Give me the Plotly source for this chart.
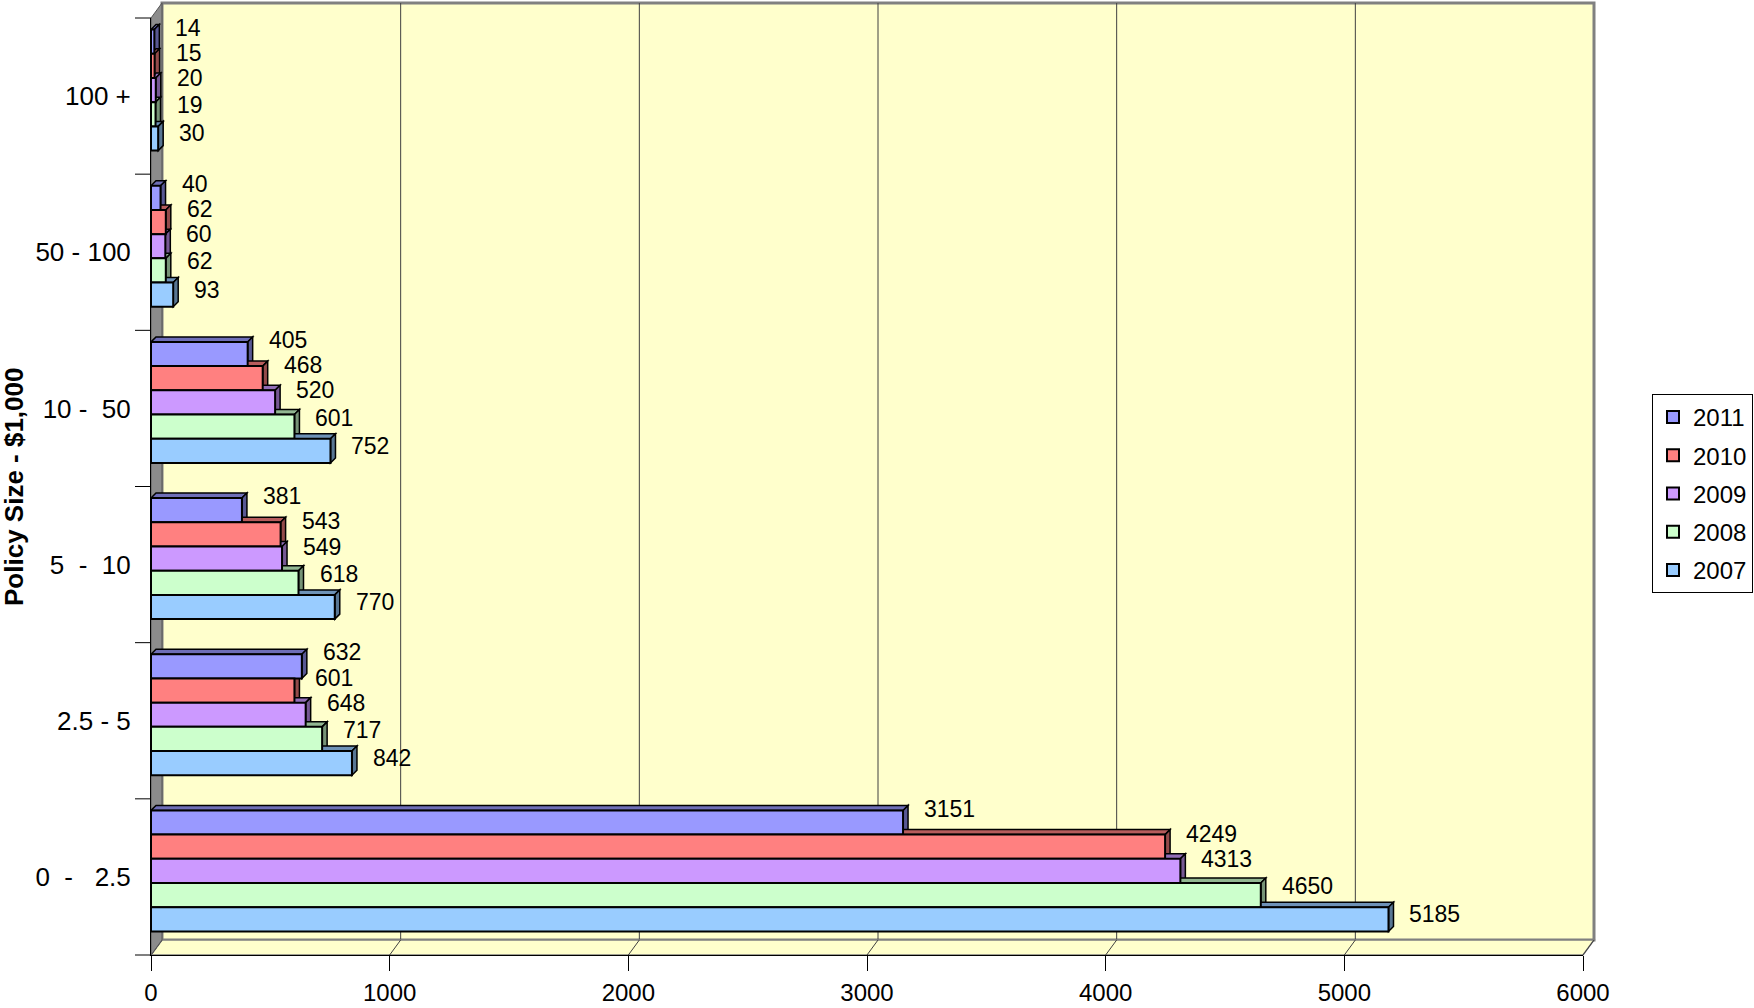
import plotly.graph_objects as go

# ---------------- data ----------------
categories = ["0  -   2.5", "2.5 - 5", "5  -  10", "10 -  50", "50 - 100", "100 +"]
years = ["2007", "2008", "2009", "2010", "2011"]
v2007 = [5185, 842, 770, 752, 93, 30]
v2008 = [4650, 717, 618, 601, 62, 19]
v2009 = [4313, 648, 549, 520, 60, 20]
v2010 = [4249, 601, 543, 468, 62, 15]
v2011 = [3151, 632, 381, 405, 40, 14]
series_values = [v2007, v2008, v2009, v2010, v2011]
x_ticks = [0, 1000, 2000, 3000, 4000, 5000, 6000]

# ---------------- style ----------------
colors = ["#99CCFF", "#CCFFCC", "#CC99FF", "#FF8080", "#9999FF"]
label_lift = [5, 9, 12, 13, 14]   # px raise of the value labels, per series (3D perspective look)

# ---------------- geometry (pixels) ----------------
W, H = 1754, 1008
X0, X1 = 151, 1583      # data 0 -> 6000 on the front plane
YT, YB = 18, 955        # front plane top / bottom
XMAX = 6000
DX, DY = 11, 15          # wall depth offset
BDX, BDY = 5, 5          # bar depth offset
FONT = "Liberation Sans, Arial"

ux = (X1 - X0) / XMAX            # px per data unit (x)
uy = (YB - YT) / len(categories)  # px per category

def px(xp):
    return (xp - X0) / (X1 - X0)

def py(yp):
    return (YB - yp) / (YB - YT)

def darken(hexc, f):
    hexc = hexc.lstrip("#")
    r, g, b = (int(hexc[i:i + 2], 16) for i in (0, 2, 4))
    return "rgb(%d,%d,%d)" % (r * f, g * f, b * f)

bar_w = 24.2 / uy
shift = 6 / uy
nser = len(years)

fig = go.Figure()
shapes = []

# back wall
shapes.append(dict(type="rect", xref="paper", yref="paper",
                   x0=px(X0 + DX), x1=px(X1 + DX), y0=py(YB - DY), y1=py(YT - DY),
                   fillcolor="#FFFFCC", line=dict(color="#808080", width=3), layer="below"))
# gridlines on back wall
for v in x_ticks:
    xf = X0 + v * ux
    if 0 < v < XMAX:
        shapes.append(dict(type="line", xref="paper", yref="paper",
                           x0=px(xf + DX), x1=px(xf + DX), y0=py(YB - DY), y1=py(YT - DY),
                           line=dict(color="#404040", width=1), layer="below"))
# floor
shapes.append(dict(type="path", xref="paper", yref="paper",
                   path="M %f %f L %f %f L %f %f L %f %f Z" % (
                       px(X0), py(YB), px(X1), py(YB), px(X1 + DX), py(YB - DY), px(X0 + DX), py(YB - DY)),
                   fillcolor="#FFFFCC", line=dict(color="#808080", width=1.5), layer="below"))
for v in x_ticks:
    xf = X0 + v * ux
    shapes.append(dict(type="line", xref="paper", yref="paper",
                       x0=px(xf + DX), x1=px(xf), y0=py(YB - DY), y1=py(YB),
                       line=dict(color="#404040", width=1), layer="below"))
# left wall
shapes.append(dict(type="path", xref="paper", yref="paper",
                   path="M %f %f L %f %f L %f %f L %f %f Z" % (
                       px(X0), py(YB), px(X0), py(YT), px(X0 + DX), py(YT - DY), px(X0 + DX), py(YB - DY)),
                   fillcolor="#8C8C8C", line=dict(color="#555555", width=1), layer="below"))
# category boundary ticks
for k in range(len(categories) + 1):
    yk = YT + k * uy
    shapes.append(dict(type="line", xref="paper", yref="paper",
                       x0=px(X0 - 16), x1=px(X0), y0=py(yk), y1=py(yk),
                       line=dict(color="black", width=1), layer="below"))

# bars (front faces) + 3D top/side faces; legend lists 2011 first
annotations = []
ddx = BDX / ux
ddy = BDY / uy
for j in reversed(range(nser)):
    yr, vals, col = years[j], series_values[j], colors[j]
    off = -nser / 2 * bar_w + shift + j * bar_w
    fig.add_trace(go.Bar(
        orientation="h", name=yr, x=vals, y=list(range(len(categories))),
        width=bar_w, offset=off,
        marker=dict(color=col, line=dict(color="black", width=2)),
        legendgroup=yr, hoverinfo="x+name",
    ))
    topc = darken(col, 0.72)
    sidec = darken(col, 0.58)
    for i, v in enumerate(vals):
        y0 = i + off
        y1 = y0 + bar_w
        shapes.append(dict(type="path", xref="x", yref="y",
                           path="M 0 %f L %f %f L %f %f L %f %f Z" % (
                               y1, ddx, y1 + ddy, v + ddx, y1 + ddy, v, y1),
                           fillcolor=topc, line=dict(color="black", width=1.5), layer="below"))
        shapes.append(dict(type="path", xref="x", yref="y",
                           path="M %f %f L %f %f L %f %f L %f %f Z" % (
                               v, y1, v + ddx, y1 + ddy, v + ddx, y0 + ddy, v, y0),
                           fillcolor=sidec, line=dict(color="black", width=1.5), layer="below"))
        annotations.append(dict(x=v, y=(y0 + y1) / 2, xref="x", yref="y",
                                text=str(v), showarrow=False, xanchor="left", yanchor="middle",
                                xshift=19, yshift=label_lift[j],
                                font=dict(family=FONT, size=23, color="black")))

annotations.append(dict(text="<b>Policy Size - $1,000</b>", xref="paper", yref="paper",
                        x=px(14), y=py(487), textangle=-90, showarrow=False,
                        xanchor="center", yanchor="middle",
                        font=dict(family=FONT, size=26, color="black")))

fig.update_layout(
    width=W, height=H,
    margin=dict(l=X0, r=W - X1, t=YT, b=H - YB, pad=0, autoexpand=False),
    paper_bgcolor="white", plot_bgcolor="rgba(0,0,0,0)",
    barmode="overlay",
    shapes=shapes, annotations=annotations,
    font=dict(family=FONT, size=23, color="black"),
    xaxis=dict(range=[0, XMAX], tickvals=x_ticks, showgrid=False, zeroline=False,
               showline=True, linecolor="black", linewidth=1, automargin=False,
               ticks="outside", ticklen=15, tickcolor="black", tickwidth=1,
               ticklabelstandoff=1,
               tickfont=dict(size=24, family=FONT)),
    yaxis=dict(range=[-0.5, len(categories) - 0.5], tickvals=list(range(len(categories))),
               ticktext=categories, showgrid=False, zeroline=False,
               showline=True, linecolor="black", linewidth=1, automargin=False,
               ticks="", ticklabelstandoff=14,
               tickfont=dict(size=26, family=FONT)),
    legend=dict(x=px(1652), y=py(394), xanchor="left", yanchor="top",
                traceorder="grouped", tracegroupgap=4,
                bordercolor="black", borderwidth=1, bgcolor="white",
                font=dict(size=24, family=FONT)),
    showlegend=True,
)

fig.write_html("out.html", config={"displayModeBar": False},
               post_script="document.body.style.margin='0px';document.body.style.padding='0px';")
